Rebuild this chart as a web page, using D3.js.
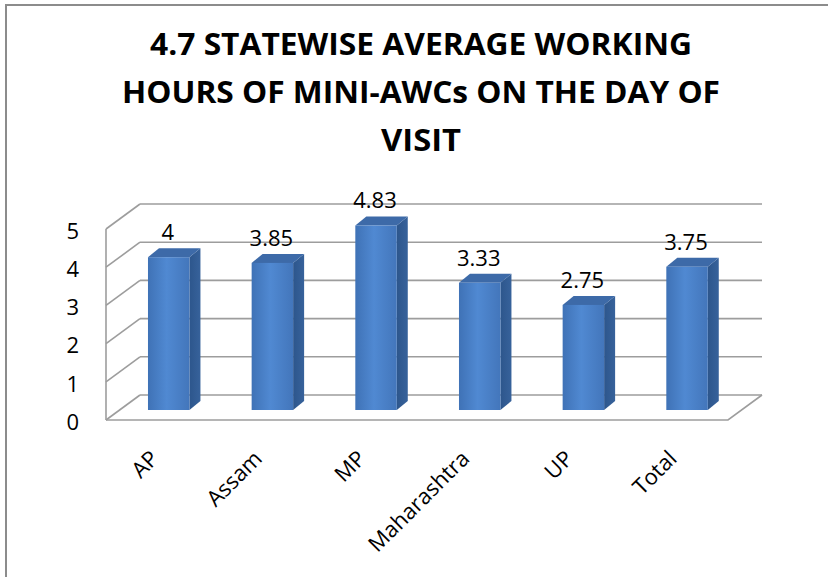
<!DOCTYPE html>
<html>
<head>
<meta charset="utf-8">
<script src="https://cdn.jsdelivr.net/npm/d3@7"></script>
<style>
  html, body { margin: 0; padding: 0; background: #fff; }
  svg { display: block; }
  text { font-family: "Open Sans", "Noto Sans", sans-serif; fill: #000; }
</style>
</head>
<body>
<script>
// ---- data ----
const categories = ["AP", "Assam", "MP", "Maharashtra", "UP", "Total"];
const values = [4, 3.85, 4.83, 3.33, 2.75, 3.75];
const valueLabels = ["4", "3.85", "4.83", "3.33", "2.75", "3.75"];
const yTicks = [0, 1, 2, 3, 4, 5];
const titleLines = ["4.7 STATEWISE AVERAGE WORKING", "HOURS OF MINI-AWCs ON THE DAY OF", "VISIT"];

// ---- layout ----
const W = 828, H = 577;
const svg = d3.select("body").append("svg").attr("width", W).attr("height", H);

// outer border (only top/left visible in the picture)
svg.append("rect").attr("x", 6).attr("y", 5).attr("width", 900).attr("height", 700)
  .attr("fill", "#fff").attr("stroke", "#8c8c8c").attr("stroke-width", 2);

// title
const titleY = [55, 103, 151];
const titleW = [542, 598, 80];
svg.append("g").selectAll("text").data(titleLines).join("text")
  .attr("x", 421).attr("y", (d, i) => titleY[i])
  .attr("text-anchor", "middle")
  .attr("font-size", 31).attr("font-weight", "bold")
  .attr("textLength", (d, i) => titleW[i])
  .attr("lengthAdjust", "spacingAndGlyphs")
  .text(d => d);

// scales
const x = d3.scaleBand().domain(categories).range([106, 728]);
const y = d3.scaleLinear().domain([0, 5]).range([420, 229]);
const DX = 34, DY = -25;          // depth of the 3D box
const gridColor = "#9d9d9d";

const grid = svg.append("g").attr("fill", "none").attr("stroke", gridColor).attr("stroke-width", 1.6);
// back wall horizontal gridlines
grid.selectAll("line.back").data(yTicks).join("line").attr("class", "back")
  .attr("x1", x.range()[0] + DX).attr("x2", x.range()[1] + DX)
  .attr("y1", d => y(d) + DY).attr("y2", d => y(d) + DY);
// side wall diagonals
grid.selectAll("line.side").data(yTicks).join("line").attr("class", "side")
  .attr("x1", x.range()[0]).attr("x2", x.range()[0] + DX)
  .attr("y1", d => y(d)).attr("y2", d => y(d) + DY);
// side wall front vertical edge
grid.append("line")
  .attr("x1", x.range()[0]).attr("x2", x.range()[0])
  .attr("y1", y(0)).attr("y2", y(5));
// floor front + right edges
grid.append("path")
  .attr("d", `M${x.range()[0]},${y(0)} L${x.range()[1]},${y(0)} L${x.range()[1] + DX},${y(0) + DY}`);

// y tick labels
svg.append("g").selectAll("text").data(yTicks).join("text")
  .attr("x", 79).attr("y", d => y(d) + 2).attr("dy", "0.35em")
  .attr("text-anchor", "end").attr("font-size", 22)
  .text(d => d);

// gradients
const defs = svg.append("defs");
const gFront = defs.append("linearGradient").attr("id", "gFront").attr("x1", 0).attr("x2", 1).attr("y1", 0).attr("y2", 0);
gFront.append("stop").attr("offset", "0%").attr("stop-color", "#3f72b6");
gFront.append("stop").attr("offset", "45%").attr("stop-color", "#5089d2");
gFront.append("stop").attr("offset", "100%").attr("stop-color", "#4376bb");
const gSide = defs.append("linearGradient").attr("id", "gSide").attr("x1", 0).attr("x2", 1).attr("y1", 0).attr("y2", 0);
gSide.append("stop").attr("offset", "0%").attr("stop-color", "#2d568c");
gSide.append("stop").attr("offset", "100%").attr("stop-color", "#37629b");

// bars
const bw = x.bandwidth() * 0.4;
const bdx = 11, bdy = -9;
const barX = c => x(c) + x.bandwidth() * 0.3 + 0.32 * DX;
const barBase = y(0) + 0.4 * DY;
const barTop = v => y(v) + 0.4 * DY;

const bars = svg.append("g").selectAll("g").data(categories).join("g");
bars.append("path") // side
  .attr("fill", "url(#gSide)")
  .attr("d", (c, i) => {
    const x0 = barX(c) + bw, t = barTop(values[i]);
    return `M${x0},${t} L${x0 + bdx},${t + bdy} L${x0 + bdx},${barBase + bdy} L${x0},${barBase} Z`;
  });
bars.append("path") // top
  .attr("fill", "#3d6aa8")
  .attr("d", (c, i) => {
    const x0 = barX(c), t = barTop(values[i]);
    return `M${x0},${t} L${x0 + bdx},${t + bdy} L${x0 + bw + bdx},${t + bdy} L${x0 + bw},${t} Z`;
  });
bars.append("rect") // front
  .attr("fill", "url(#gFront)")
  .attr("x", c => barX(c)).attr("width", bw)
  .attr("y", (c, i) => barTop(values[i]))
  .attr("height", (c, i) => barBase - barTop(values[i]));

// value labels
svg.append("g").selectAll("text").data(categories).join("text")
  .attr("x", c => barX(c) + bw / 2 - 1)
  .attr("y", (c, i) => barTop(values[i]) - 17)
  .attr("text-anchor", "middle").attr("font-size", 22)
  .text((c, i) => valueLabels[i]);

// category labels (rotated)
svg.append("g").selectAll("text").data(categories).join("text")
  .attr("transform", c => `translate(${x(c) + x.bandwidth() / 2 + 2},460) rotate(-45)`)
  .attr("text-anchor", "end").attr("font-size", 22)
  .text(c => c);
</script>
</body>
</html>
